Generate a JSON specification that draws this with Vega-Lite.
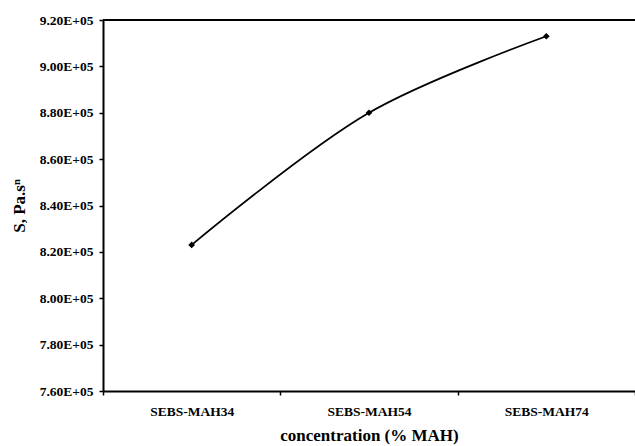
{
  "$schema": "https://vega.github.io/schema/vega-lite/v6.json",
  "autosize": "none",
  "width": 534,
  "height": 371,
  "padding": {"left": 103, "top": 20, "right": 0, "bottom": 55},
  "background": "white",
  "config": {
    "view": {"stroke": null},
    "font": "Liberation Serif, Times New Roman, serif",
    "axis": {"grid": false, "domainColor": "black", "tickColor": "black", "labelColor": "black", "titleColor": "black", "labelFont": "Liberation Serif, Times New Roman, serif", "titleFont": "Liberation Serif, Times New Roman, serif", "labelFontWeight": "bold", "titleFontWeight": "bold"}
  },
  "data": {"values": [
    {"sample": "SEBS-MAH34", "S": 823000},
    {"sample": "SEBS-MAH54", "S": 880000},
    {"sample": "SEBS-MAH74", "S": 913000}
  ]},
  "layer": [
    {
      "mark": {"type": "rule", "color": "black", "strokeWidth": 2},
      "encoding": {"y": {"datum": 920000, "type": "quantitative"}}
    },
    {
      "mark": {"type": "line", "color": "black", "strokeWidth": 1.8, "interpolate": "catmull-rom"},
      "encoding": {
        "x": {"field": "sample", "type": "nominal", "sort": null,
              "scale": {"type": "band", "paddingInner": 0, "paddingOuter": 0, "range": [0, 532]},
              "axis": {"title": "concentration (% MAH)", "labelAngle": 0, "labelFontSize": 13.5, "titleFontSize": 17, "titlePadding": 10, "labelPadding": 9, "domainWidth": 2, "tickWidth": 1.5, "tickSize": 4, "tickBand": "extent"}},
        "y": {"field": "S", "type": "quantitative",
              "scale": {"domain": [760000, 920000], "nice": false, "zero": false},
              "axis": {"title": "S, Pa.sⁿ", "values": [760000, 780000, 800000, 820000, 840000, 860000, 880000, 900000, 920000], "labelExpr": "format(datum.value / 100000, '.2f') + 'E+05'", "labelFontSize": 13.5, "titleFontSize": 17, "titlePadding": 11, "labelPadding": 6, "domainWidth": 2, "tickWidth": 1.5, "tickSize": 4}}
      }
    },
    {
      "mark": {"type": "point", "shape": "diamond", "filled": true, "color": "black", "opacity": 1, "size": 45},
      "encoding": {
        "x": {"field": "sample", "type": "nominal", "sort": null},
        "y": {"field": "S", "type": "quantitative"}
      }
    }
  ]
}
